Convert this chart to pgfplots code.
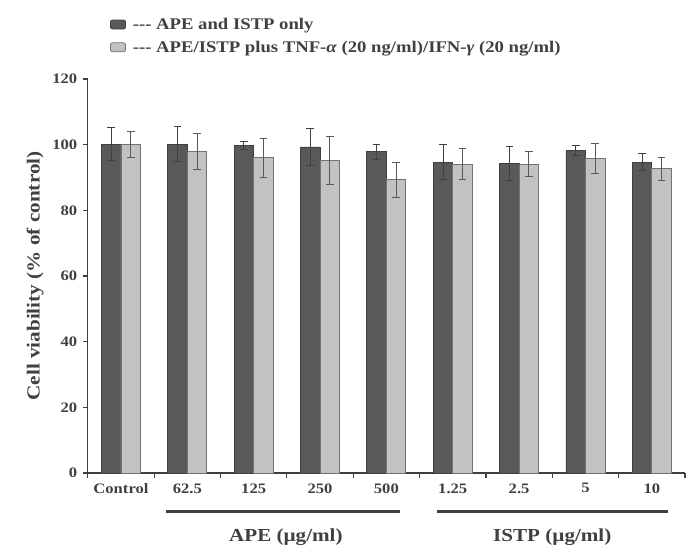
\documentclass[border=0pt]{standalone}
\usepackage{fontspec}
\setmainfont{Liberation Serif}[FakeStretch=1.15]
\usepackage{pgfplots}
\usepackage{pgfplotstable}
\pgfplotsset{compat=1.18}

\definecolor{darkbar}{HTML}{595959}
\definecolor{lightbar}{HTML}{C2C2C2}
\definecolor{axisgray}{HTML}{404040}

\pgfplotstableread{
x y e
0 100.1 5.0
1 100.2 5.2
2 99.8 1.3
3 99.3 5.7
4 97.8 2.2
5 94.7 5.3
6 94.4 5.2
7 98.2 1.6
8 94.7 2.6
}\darkdata

\pgfplotstableread{
x y e
0 100.0 4.0
1 97.9 5.5
2 96.0 6.0
3 95.2 7.3
4 89.3 5.4
5 94.1 4.8
6 94.1 3.7
7 95.9 4.6
8 92.7 3.5
}\lightdata

\begin{document}
\begin{tikzpicture}
\useasboundingbox (0,0) rectangle (690bp,554bp);
\begin{axis}[
  at={(87.8bp,81bp)}, anchor=south west,
  scale only axis,
  width=597.2bp, height=394bp,
  ybar=0pt, bar width=19.5bp,
  xmin=-0.5, xmax=8.5,
  ymin=0, ymax=120,
  ytick={0,20,...,120},
  xtick={-0.5,0.5,...,8.5},
  xticklabels={},
  extra x ticks={0,1,...,8},
  extra x tick labels={Control,62.5,125,250,500,1.25,2.5,5,10},
  extra x tick style={major tick length=0pt, tick style={draw=none}},
  axis x line*=bottom, axis y line*=left,
  axis line style={-, draw=axisgray, line width=1.2bp},
  tick align=outside,
  major tick length=5bp,
  tick style={draw=axisgray, line width=1.2bp},
  /pgf/number format/assume math mode=true,
  yticklabel style={font=\fontsize{14.5}{16}\selectfont\bfseries\color{axisgray}, xshift=-2bp},
  xticklabel style={font=\fontsize{14.5}{17}\selectfont\bfseries\color{axisgray}, yshift=-7bp},
  ylabel={Cell viability (\% of control)},
  ylabel style={font=\fontsize{18.5}{20}\selectfont\bfseries\color{axisgray},
    at={(axis description cs:-0.088,0.5)}, anchor=center},
  clip=false,
  legend style={at={(axis description cs:0.037,1.16)}, anchor=north west,
    draw=none, fill=none, font=\fontsize{16.3}{18}\selectfont\bfseries\color{axisgray},
    row sep=6bp, inner sep=0pt,
    /tikz/every odd column/.append style={column sep=5bp}},
  legend cell align=left,
]
\addplot[fill=darkbar, draw=axisgray, line width=0.8bp,
  legend image code/.code={\draw[fill=darkbar, draw=axisgray, line width=0.8bp, rounded corners=2bp] (0bp,-4.5bp) rectangle (15bp,4.5bp);},
  error bars/.cd, y dir=both, y explicit,
  error bar style={line width=0.9bp, draw=axisgray},
  error mark options={rotate=90, mark size=3.8bp, line width=0.9bp, draw=axisgray}]
  table[x=x, y=y, y error=e] {\darkdata};
\addlegendentry{-{}-{}- APE and ISTP only}
\addplot[fill=lightbar, draw=black!55, line width=0.8bp,
  legend image code/.code={\draw[fill=lightbar, draw=black!55, line width=0.8bp, rounded corners=2bp] (0bp,-4.5bp) rectangle (15bp,4.5bp);},
  error bars/.cd, y dir=both, y explicit,
  error bar style={line width=0.9bp, draw=black!65},
  error mark options={rotate=90, mark size=3.8bp, line width=0.9bp, draw=black!65}]
  table[x=x, y=y, y error=e] {\lightdata};
\addlegendentry{-{}-{}- APE/ISTP plus TNF-\textit{α} (20 ng/ml)/IFN-\textit{γ} (20 ng/ml)}

\draw[axisgray, line width=3bp] (axis cs:0.68,-11.6) -- (axis cs:4.21,-11.6);
\draw[axisgray, line width=3bp] (axis cs:4.76,-11.6) -- (axis cs:8.24,-11.6);
\node[font=\fontsize{18.4}{20}\selectfont\bfseries\color{axisgray}] at (axis cs:2.485,-19.4) {APE (µg/ml)};
\node[font=\fontsize{18.4}{20}\selectfont\bfseries\color{axisgray}] at (axis cs:6.5,-19.4) {ISTP (µg/ml)};
\end{axis}
\end{tikzpicture}
\end{document}
